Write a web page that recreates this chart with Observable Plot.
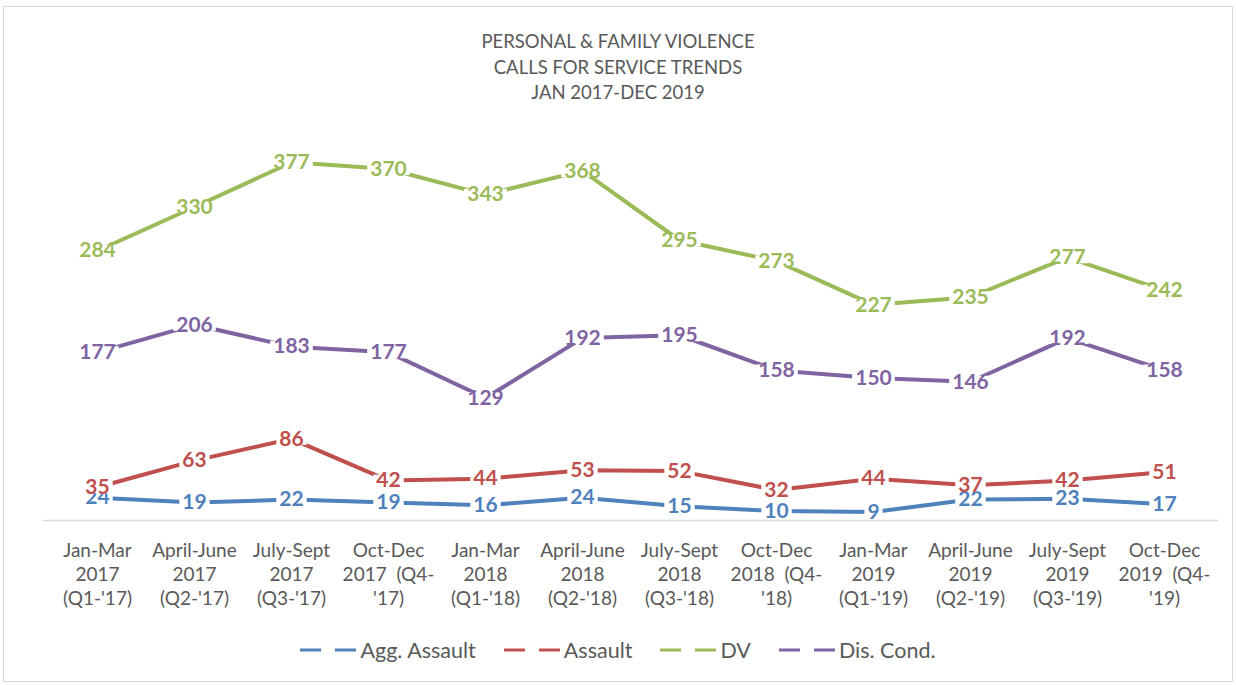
<!DOCTYPE html>
<html>
<head>
<meta charset="utf-8">
<script src="https://cdn.jsdelivr.net/npm/d3@7"></script>
<script src="https://cdn.jsdelivr.net/npm/@observablehq/plot@0.6"></script>
<style>
  html, body { margin: 0; padding: 0; background: #fff; }
  body { width: 1236px; height: 685px; position: relative; overflow: hidden; font-family: Lato, "Open Sans", sans-serif; }
  #frame { position: absolute; left: 3px; top: 6px; width: 1230px; height: 676px; border: 1px solid #d9d9d9; box-sizing: border-box; }
  #title { position: absolute; left: 0; top: 29px; width: 1236px; text-align: center; color: #595959; font-size: 18.5px; line-height: 25.5px; }
  #chart { position: absolute; left: 0; top: 105px; }
  #legend { position: absolute; left: 0; top: 637px; width: 1236px; display: flex; justify-content: center; gap: 28px; color: #595959; font-size: 21.5px; line-height: 26px; }
  #legend .item { display: flex; align-items: center; gap: 4px; }
</style>
</head>
<body>
<div id="frame"></div>
<div id="title">PERSONAL &amp; FAMILY VIOLENCE<br>CALLS FOR SERVICE TRENDS<br>JAN 2017-DEC 2019</div>
<div id="chart"></div>
<div id="legend"></div>
<script>
const quarters = ["Q1-'17","Q2-'17","Q3-'17","Q4-'17","Q1-'18","Q2-'18","Q3-'18","Q4-'18","Q1-'19","Q2-'19","Q3-'19","Q4-'19"];
const tickLabels = [
  "Jan-Mar\n2017\n(Q1-'17)",
  "April-June\n2017\n(Q2-'17)",
  "July-Sept\n2017\n(Q3-'17)",
  "Oct-Dec\n2017  (Q4-\n'17)",
  "Jan-Mar\n2018\n(Q1-'18)",
  "April-June\n2018\n(Q2-'18)",
  "July-Sept\n2018\n(Q3-'18)",
  "Oct-Dec\n2018  (Q4-\n'18)",
  "Jan-Mar\n2019\n(Q1-'19)",
  "April-June\n2019\n(Q2-'19)",
  "July-Sept\n2019\n(Q3-'19)",
  "Oct-Dec\n2019  (Q4-\n'19)"
];
const seriesNames = ["Agg. Assault", "Assault", "DV", "Dis. Cond."];
const seriesColors = ["#4F81BD", "#C0504D", "#9BBB59", "#8064A2"];
const aggAssault = [24, 19, 22, 19, 16, 24, 15, 10, 9, 22, 23, 17];
const assault    = [35, 63, 86, 42, 44, 53, 52, 32, 44, 37, 42, 51];
const dv         = [284, 330, 377, 370, 343, 368, 295, 273, 227, 235, 277, 242];
const disCond    = [177, 206, 183, 177, 129, 192, 195, 158, 150, 146, 192, 158];
const yMax = 400;

const seriesValues = [aggAssault, assault, dv, disCond];
const rows = [];
seriesNames.forEach((s, i) => {
  seriesValues[i].forEach((v, j) => rows.push({series: s, quarter: quarters[j], value: v}));
});
const ticks = quarters.map((q, i) => ({quarter: q, label: tickLabels[i]}));

// white label box (like spreadsheet data-label background)
const boxSymbol = (w, h) => ({draw(ctx) { ctx.rect(-w / 2, -h / 2, w, h); }});
const digitW = 12.2, boxPad = 6, boxH = 12;

const labelMarks = [];
seriesNames.forEach((s) => {
  const sr = rows.filter(d => d.series === s);
  [1, 2, 3].forEach(n => {
    const sub = sr.filter(d => String(d.value).length === n);
    if (sub.length) labelMarks.push(Plot.dot(sub, {x: "quarter", y: "value", symbol: boxSymbol(n * digitW + boxPad, boxH), r: 5, fill: "white", stroke: "none"}));
  });
  labelMarks.push(Plot.text(sr, {x: "quarter", y: "value", text: d => String(d.value), fill: "series", fontSize: 21, fontWeight: "bold"}));
});

const chart = Plot.plot({
  width: 1236,
  height: 525,
  marginLeft: 43,
  marginRight: 18,
  marginTop: 35,
  marginBottom: 110,
  style: {fontFamily: "Lato, 'Open Sans', sans-serif", background: "transparent"},
  x: {type: "point", domain: quarters, padding: 0.5, axis: null},
  y: {domain: [0, yMax], axis: null},
  color: {domain: seriesNames, range: seriesColors},
  marks: [
    Plot.ruleY([0], {stroke: "#d9d9d9", strokeWidth: 1.5}),
    Plot.line(rows, {x: "quarter", y: "value", z: "series", stroke: "series", strokeWidth: 4, strokeLinecap: "butt", curve: "linear"}),
    ...labelMarks,
    Plot.text(ticks, {x: "quarter", y: 0, text: "label", dy: 19, lineAnchor: "top", lineHeight: 1.28, fill: "#595959", fontSize: 19})
  ]
});
document.getElementById("chart").appendChild(chart);

const legend = document.getElementById("legend");
seriesNames.forEach((s, i) => {
  const item = document.createElement("div");
  item.className = "item";
  item.innerHTML = `<svg width="56" height="10"><line x1="0" y1="5" x2="56" y2="5" stroke="${seriesColors[i]}" stroke-width="3" stroke-dasharray="21,14"/></svg><span>${s}</span>`;
  legend.appendChild(item);
});
</script>
</body>
</html>
